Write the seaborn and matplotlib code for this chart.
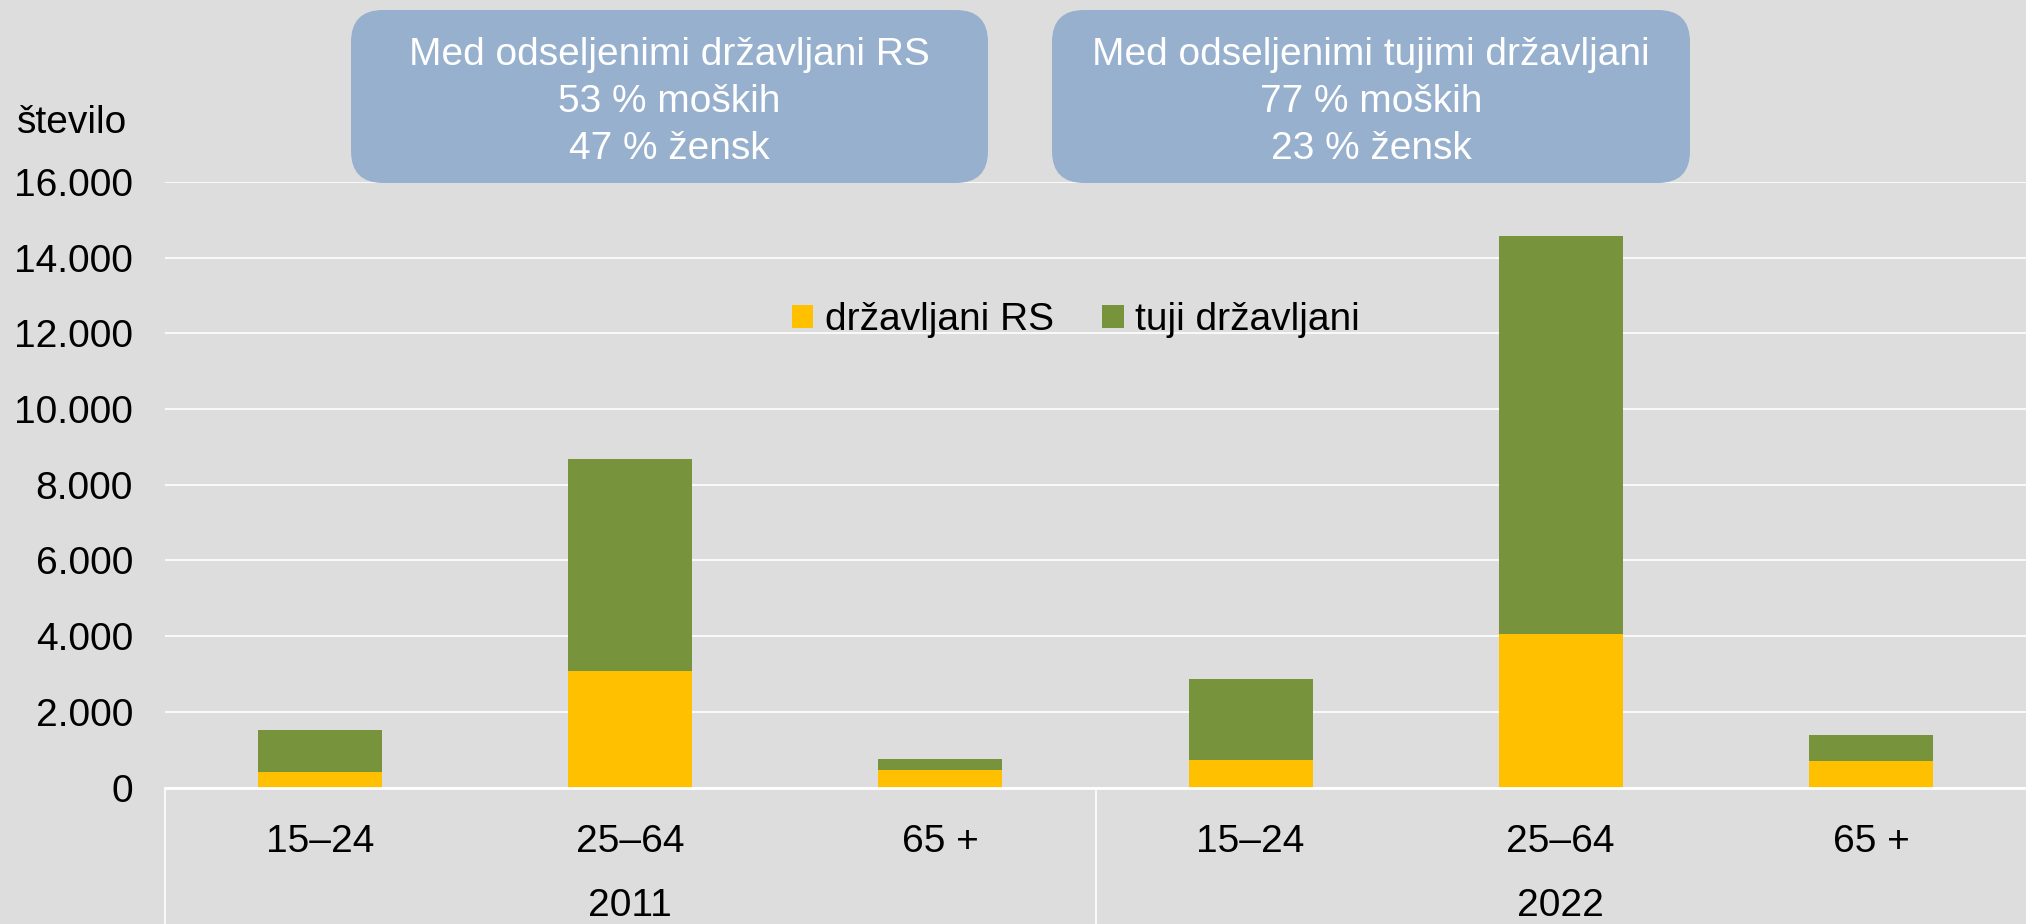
import matplotlib
matplotlib.use("Agg")
import matplotlib.pyplot as plt
import seaborn as sns
import pandas as pd
from matplotlib.patches import Patch, FancyBboxPatch
from matplotlib.transforms import IdentityTransform, blended_transform_factory
from matplotlib.lines import Line2D
from matplotlib.ticker import FuncFormatter

# ---- data ----
years = ["2011", "2022"]
ages = ["15–24", "25–64", "65 +"]
drzavljani_rs = [400, 3080, 470, 740, 4070, 710]
tuji_drzavljani = [1110, 5600, 285, 2120, 10510, 680]
yticks = [0, 2000, 4000, 6000, 8000, 10000, 12000, 14000, 16000]
box_texts = ["Med odseljenimi državljani RS\n53 % moških\n47 % žensk",
             "Med odseljenimi tujimi državljani\n77 % moških\n23 % žensk"]

keys = [f"{y} {a}" for y in years for a in ages]
df = pd.DataFrame({
    "key": keys,
    "rs": drzavljani_rs,
    "tuji": tuji_drzavljani,
})
df["total"] = df["rs"] + df["tuji"]

# ---- style ----
BG = "#DDDDDD"
YELLOW = "#FFC000"
GREEN = "#77933C"
BOX = "#96B0CE"
sns.set_style("white")
plt.rcParams["font.family"] = ["Liberation Sans", "DejaVu Sans"]
plt.rcParams["text.color"] = "black"

W, H, DPI = 2026, 924, 100
fig = plt.figure(figsize=(W / DPI, H / DPI), dpi=DPI, facecolor=BG)
left_px, base_px, top_px = 165, 787.6, 181.9
ax = fig.add_axes([left_px / W, (H - base_px) / H, (W - left_px) / W, (base_px - top_px) / H])
ax.set_facecolor(BG)

sns.barplot(data=df, x="key", y="total", order=keys, color=GREEN, saturation=1,
            width=0.4, errorbar=None, ax=ax, zorder=3, linewidth=0, edgecolor="none")
sns.barplot(data=df, x="key", y="rs", order=keys, color=YELLOW, saturation=1,
            width=0.4, errorbar=None, ax=ax, zorder=4, linewidth=0, edgecolor="none")

ax.set_xlim(-0.5, 5.5)
ax.set_ylim(0, 16000)
ax.set_yticks(yticks)
ax.yaxis.set_major_formatter(FuncFormatter(lambda v, p: f"{int(v):,}".replace(",", ".")))
ax.set_xticks(range(len(keys)))
ax.set_xticklabels(ages * len(years))
ax.set_xlabel("")
ax.set_ylabel("")
ax.tick_params(axis="both", length=0, labelsize=28, colors="black")
ax.tick_params(axis="x", pad=26)
ax.tick_params(axis="y", pad=23)
ax.grid(axis="y", color="white", linewidth=1.2, zorder=0)
ax.set_axisbelow(True)
for s in ax.spines.values():
    s.set_visible(False)
ax.axhline(0, color="white", linewidth=2, zorder=5, clip_on=False)

# group axis
trans = blended_transform_factory(ax.transData, ax.transAxes)
bottom_axes = -(H - base_px) / (base_px - top_px)
for xv in [-0.5, 2.5]:
    ax.add_line(Line2D([xv, xv], [0, bottom_axes], transform=trans, color="white",
                       linewidth=1.2, clip_on=False))
for i, y in enumerate(years):
    ax.text(i * 3 + 1, -0.196, y, transform=trans, ha="center", va="center",
            fontsize=28, color="black")

# y label
fig.text(17 / W, 1 - 123 / H, "število", ha="left", va="center", fontsize=28, color="black")

# legend
handles = [Patch(facecolor=YELLOW, edgecolor="none", label="državljani RS"),
           Patch(facecolor=GREEN, edgecolor="none", label="tuji državljani")]
leg = fig.legend(handles=handles, loc="center", bbox_to_anchor=(1076 / W, 1 - 320 / H), ncol=2,
                 frameon=False, fontsize=28, handlelength=0.55, handleheight=0.55,
                 handletextpad=0.3, columnspacing=1.25)
for t in leg.get_texts():
    t.set_color("black")

# annotation boxes (pixel coords)
for (x0, x1), txt in zip([(351, 988), (1052, 1690)], box_texts):
    y0, y1 = 10, 183
    patch = FancyBboxPatch((x0, H - y1), x1 - x0, y1 - y0,
                           boxstyle="round,pad=0,rounding_size=32",
                           transform=IdentityTransform(), facecolor=BOX,
                           edgecolor="none", zorder=10)
    fig.patches.append(patch)
    fig.text((x0 + x1) / 2 / W, 1 - 102 / H, txt, ha="center", va="center",
             fontsize=28, color="white", linespacing=1.40, zorder=11)

fig.savefig("out.png", dpi=DPI, facecolor=BG)
